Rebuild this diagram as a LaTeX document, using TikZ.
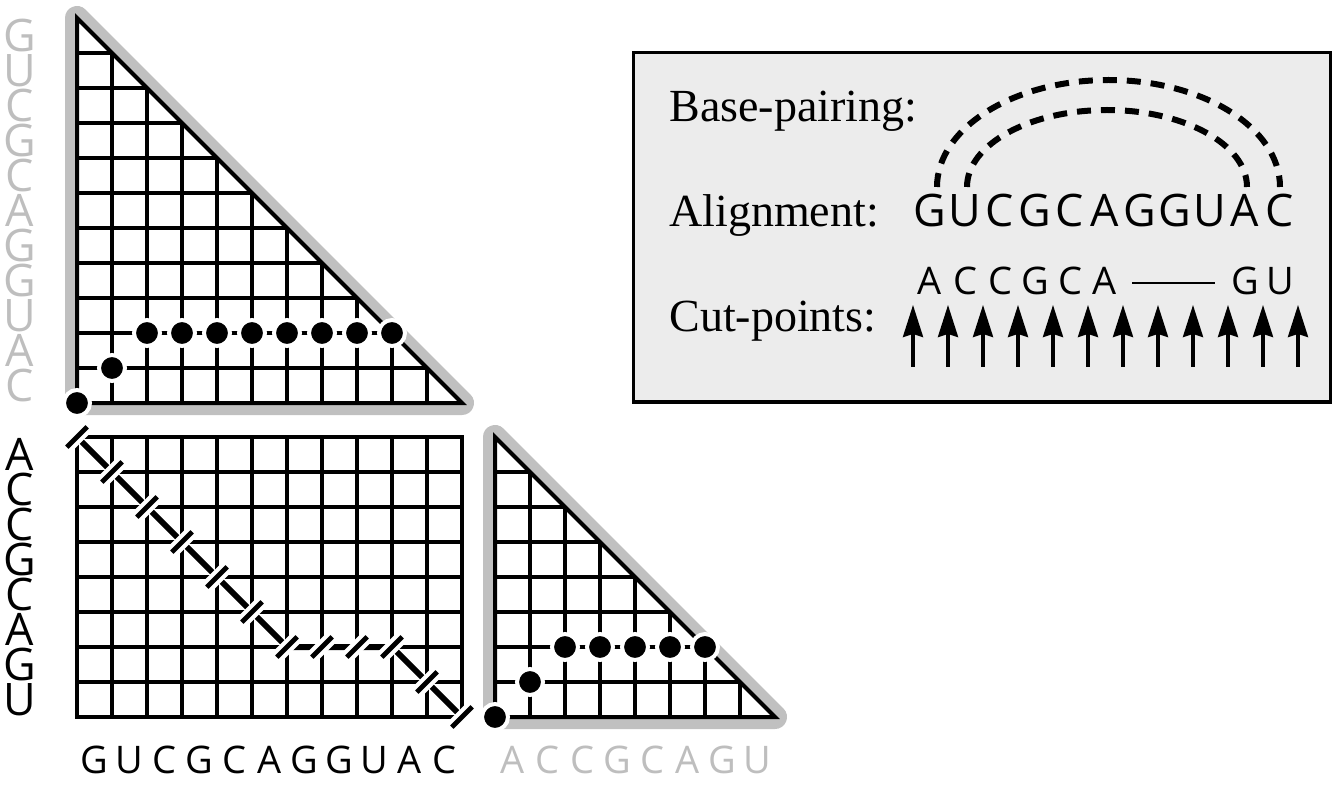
\documentclass[tikz,border=0pt]{standalone}
\usepackage{fontspec}
\setmainfont{Liberation Serif}
\newfontfamily\seqfont{Open Sans}
\usetikzlibrary{arrows.meta}
\definecolor{rim}{RGB}{192,192,192}
\definecolor{faint}{RGB}{190,190,190}
\definecolor{panel}{RGB}{236,236,236}

\begin{document}
\begin{tikzpicture}[
	x=0.5pt, y=-0.5pt,
	>={Stealth[length=16pt, width=10pt, inset=1.5pt]},
	% Styles for the tables
	rimline/.style={draw=rim, line width=12pt, line join=round},
	gridline/.style={line width=1.7pt},
	edgeline/.style={line width=2pt},
	statedot/.style={circle, fill=black, draw=white, line width=2pt, minimum size=13pt, inner sep=0pt},
	cuttick/.style={rectangle, fill=black, draw=white, line width=2pt, minimum width=16.5pt, minimum height=4.6pt, inner sep=0pt, rotate=45},
	pathline/.style={line width=3pt},
	% Styles for the letters and the key
	seqbig/.style={font={\seqfont\fontsize{22.4}{24}\selectfont}, inner sep=0pt, anchor=base},
	seqsmall/.style={font={\seqfont\fontsize{19}{21}\selectfont}, inner sep=0pt, anchor=base},
	keytext/.style={font={\fontsize{23}{26}\selectfont}, inner sep=0pt, anchor=base west},
	legendbox/.style={draw=black, line width=1.5pt, fill=panel},
	pairarc/.style={line width=3pt, dash pattern=on 7pt off 5pt},
	cutarrow/.style={->, line width=1.6pt}
	]
	\useasboundingbox (0,0) rectangle (1334,791);
	
	% ==========================================
	% 1. UPPER TRIANGLE (11 x 11)
	% ==========================================
	\draw[rimline] (77,18) -- (77,403) -- (462,403) -- cycle;
	\fill[white] (77,18) -- (77,403) -- (462,403) -- cycle;
	\foreach \k in {1,...,10} {
		\draw[gridline] (77+35*\k,403) -- (77+35*\k,18+35*\k);
		\draw[gridline] (77,18+35*\k) -- (77+35*\k,18+35*\k);
	}
	\draw[edgeline] (77,18) -- (77,403) -- (462,403) -- cycle;
	
	% dots along the best path
	\node[statedot] (up-0) at (77,403) {};
	\node[statedot] (up-1) at (112,368) {};
	\foreach \k in {2,...,9}
		\node[statedot] (up-\k) at (77+35*\k,333) {};
	
	% ==========================================
	% 2. ALIGNMENT SQUARE (11 x 8)
	% ==========================================
	\foreach \k in {1,...,10}
		\draw[gridline] (77+35*\k,437) -- (77+35*\k,717);
	\foreach \k in {1,...,7}
		\draw[gridline] (77,437+35*\k) -- (462,437+35*\k);
	\draw[edgeline] (77,437) rectangle (462,717);
	
	% cut points of the alignment path
	\foreach \k in {0,...,6}
		\coordinate (step-\k) at (77+35*\k,437+35*\k);
	\foreach \k in {7,8,9}
		\coordinate (step-\k) at (77+35*\k,647);
	\foreach \k in {10,11}
		\coordinate (step-\k) at (77+35*\k,437+35*\k-105);
	\draw[pathline] (step-0) -- (step-6) -- (step-9) -- (step-11);
	\foreach \k in {0,...,11}
		\node[cuttick] (tick-\k) at (step-\k) {};
	
	% ==========================================
	% 3. RIGHT TRIANGLE (8 x 8)
	% ==========================================
	\draw[rimline] (495,437) -- (495,717) -- (775,717) -- cycle;
	\fill[white] (495,437) -- (495,717) -- (775,717) -- cycle;
	\foreach \k in {1,...,7} {
		\draw[gridline] (495+35*\k,717) -- (495+35*\k,437+35*\k);
		\draw[gridline] (495,437+35*\k) -- (495+35*\k,437+35*\k);
	}
	\draw[edgeline] (495,437) -- (495,717) -- (775,717) -- cycle;
	
	\node[statedot] (rt-0) at (495,717) {};
	\node[statedot] (rt-1) at (530,682) {};
	\foreach \k in {2,...,6}
		\node[statedot] (rt-\k) at (495+35*\k,647) {};
	
	% ==========================================
	% 4. SEQUENCE LETTERS
	% ==========================================
	\foreach \ch [count=\i] in {G,U,C,G,C,A,G,G,U,A,C}
		\node[seqbig, text=faint] (rowup-\i) at (20,16.5+35*\i) {\ch};
	\foreach \ch [count=\i] in {A,C,C,G,C,A,G,U}
		\node[seqbig] (rowsq-\i) at (20,435.5+35*\i) {\ch};
	\foreach \ch [count=\i] in {G,U,C,G,C,A,G,G,U,A,C}
		\node[seqsmall] (colsq-\i) at (59.5+35*\i,773) {\ch};
	\foreach \ch [count=\i] in {A,C,C,G,C,A,G,U}
		\node[seqsmall, text=faint] (colrt-\i) at (477.5+35*\i,773) {\ch};
	
	% ==========================================
	% 5. KEY
	% ==========================================
	\draw[legendbox] (633,53) rectangle (1330,402);
	\node[keytext] (key-pair) at (669,122) {Base-pairing:};
	\node[keytext] (key-align) at (669,227) {Alignment:};
	\node[keytext] (key-cut) at (669,332) {Cut-points:};
	
	\foreach \ch [count=\i] in {G,U,C,G,C,A,G,G,U,A,C}
		\node[seqbig] (al-\i) at (895+35*\i,227) {\ch};
	\foreach \ch [count=\i] in {A,C,C,G,C,A}
		\node[seqsmall] (cp-\i) at (895+35*\i,295) {\ch};
	\node[seqsmall] (cp-10) at (1245,295) {G};
	\node[seqsmall] (cp-11) at (1280,295) {U};
	\coordinate (gap-left) at (1132,283);
	\coordinate (gap-right) at (1215,283);
	\draw[line width=1.4pt] (gap-left) -- (gap-right);
	
	% base pairs G-C and U-A
	\coordinate (pair-out) at (937,187);
	\coordinate (pair-in) at (967,187);
	\draw[pairarc] (pair-out) arc[start angle=180, end angle=360, x radius=171.5, y radius=107];
	\draw[pairarc] (pair-in) arc[start angle=180, end angle=360, x radius=140, y radius=77];
	
	% cut-point arrows
	\foreach \j in {1,...,12} {
		\coordinate (foot-\j) at (878+35*\j,367);
		\coordinate (tip-\j) at (878+35*\j,305);
		\draw[cutarrow] (foot-\j) -- (tip-\j);
	}
	
\end{tikzpicture}
\end{document}
